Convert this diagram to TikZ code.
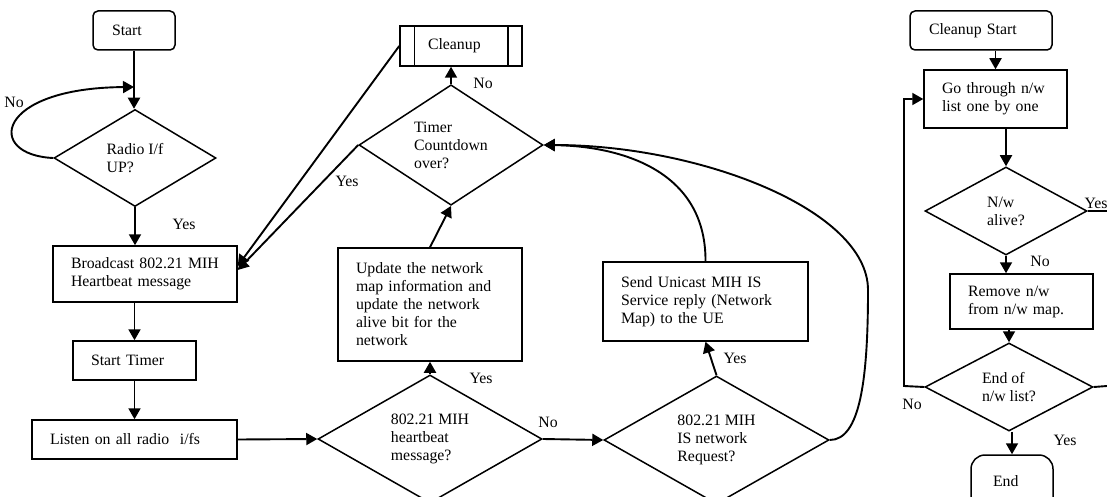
\documentclass[tikz,border=0pt]{standalone}
\usepackage{fontspec}
\setmainfont{Liberation Serif}
\usetikzlibrary{shapes.geometric,arrows.meta,calc}
\begin{document}
\begin{tikzpicture}[x=1pt,y=-1pt,
  every node/.style={font=\fontsize{15.8}{18}\selectfont},
  shape line/.style={line width=1.5pt},
  proc/.style={shape line,draw,rectangle,inner xsep=18pt,inner ysep=0pt,align=left},
  term/.style={shape line,draw,rectangle,rounded corners=5pt,inner xsep=19pt,inner ysep=0pt,align=left},
  decision/.style={shape line,draw,diamond,inner sep=0pt,align=left},
  flow/.style={line width=1.9pt,-{Triangle[length=11pt,width=12pt]}},
  plain/.style={line width=1.9pt},
  lbl/.style={inner sep=0pt}]
\useasboundingbox (0,0) rectangle (1107,497);

% ---------- main flow ----------
\node[term, text width=44pt, minimum height=39pt] (start) at (134,30.5) {Start};
\node[decision, minimum width=162pt, minimum height=97pt] (radio) at (135,158) {Radio I/f\\UP?};
\node[proc, text width=148pt, minimum height=56pt] (bc) at (145,274) {Broadcast 802.21 MIH\\Heartbeat message};
\node[proc, text width=87pt, minimum height=39pt] (stimer) at (134.5,360.5) {Start Timer};
\node[proc, text width=169pt, minimum height=39pt] (listen) at (134.5,439.5) {Listen on all radio\ \ i/fs};
\node[decision, minimum width=224pt, minimum height=116pt] (hb) at (430,439) {802.21 MIH\\heartbeat\\message?};
\node[proc, text width=148pt, minimum height=113pt] (update) at (430,304.5) {Update the network\\map information and\\update the network\\alive bit for the\\network};
\node[decision, minimum width=184pt, minimum height=117pt] (timer) at (451,145) {Timer\\Countdown\\over?};
\node[shape line, draw, rectangle, text width=66pt, inner xsep=28pt, inner ysep=0pt, minimum height=40pt, align=left] (cleanup) at (461,46) {Cleanup};
\draw[shape line] ([xshift=15pt]cleanup.north west) -- ([xshift=15pt]cleanup.south west)
                  ([xshift=-15pt]cleanup.north east) -- ([xshift=-15pt]cleanup.south east);
\node[decision, minimum width=225pt, minimum height=116pt] (isreq) at (716.5,440) {802.21 MIH\\IS network\\Request?};
\node[proc, text width=169pt, minimum height=79pt] (send) at (705.5,301.5) {Send Unicast MIH IS\\Service reply (Network\\Map) to the UE};

\coordinate (loopin) at (134,87);
\draw[flow] (start.south) -- (start.south |- radio.north);
\draw[flow] (radio.west) .. controls (-15,155) and (-5,88) .. (loopin);
\node[lbl] (lno1) at (14,102) {No};
\draw[flow] (radio.south) -- (radio.south |- bc.north);
\node[lbl] (lyes1) at (184,224) {Yes};
\draw[flow] (stimer.north |- bc.south) -- (stimer.north);
\draw[flow] (stimer.south) -- (listen.north);
\draw[flow] (listen.east) -- (hb.west);
\draw[flow] (hb.north) -- (update.south);
\node[lbl] (lyes2) at (481,378) {Yes};
\draw[flow] (update.north) -- (timer.south);
\draw[flow] (timer.north) -- (timer.north |- cleanup.south);
\node[lbl] (lno2) at (483,83) {No};
\draw[flow] (cleanup.west) -- ([yshift=8pt]bc.east);
\draw[flow] (timer.west) -- ([yshift=4pt]bc.east);
\node[lbl] (lyes3) at (347,181) {Yes};
\draw[flow] (hb.east) -- (isreq.west);
\node[lbl] (lno3) at (548,422) {No};
\draw[flow] (isreq.north) -- (send.south);
\node[lbl] (lyes4) at (735,358) {Yes};
\draw[flow] (send.north) .. controls (706,170) and (620,146) .. (timer.east);
\draw[flow] (isreq.east) .. controls (860,440) and (868,380) .. (868,290)
                         .. controls (868,210) and (700,145) .. (timer.east);

% ---------- cleanup flow ----------
\node[term, text width=104pt, minimum height=39pt] (cstart) at (981,30.5) {Cleanup Start};
\node[proc, text width=107pt, minimum height=58pt] (go) at (995.5,99) {Go through n/w\\list one by one};
\node[decision, minimum width=162pt, minimum height=88pt] (alive) at (1006,211) {N/w\\alive?};
\node[proc, text width=107pt, minimum height=55pt] (remove) at (1021.5,301.5) {Remove n/w\\from n/w map.};
\node[decision, minimum width=168pt, minimum height=88pt] (endlist) at (1009,387) {End of\\n/w list?};
\node[term, rounded corners=14pt, inner xsep=22pt, text width=38pt, minimum height=60pt, text depth=8pt] (endn) at (1012,485) {End};

\draw[flow] (go.north |- cstart.south) -- (go.north);
\draw[flow] (alive.north |- go.south) -- (alive.north);
\coordinate (yesend) at (1107,211);
\draw[plain] (alive.east) -- (yesend);
\node[lbl, anchor=base] (lyes5) at (1096,208) {Yes};
\draw[flow] (alive.south) -- (alive.south |- remove.north);
\node[lbl] (lno4) at (1040,261) {No};
\draw[flow] (endlist.north |- remove.south) -- (endlist.north);
\coordinate (noturn) at (904,386);
\draw[flow] (endlist.west) -- (noturn) |- (go.west);
\node[lbl] (lno5) at (912,404) {No};
\coordinate (rightend) at (1107,386);
\draw[plain] (endlist.east) -- (rightend);
\draw[flow] (endn.north |- endlist.south) -- (endn.north);
\node[lbl] (lyes6) at (1065,440) {Yes};
\end{tikzpicture}
\end{document}
